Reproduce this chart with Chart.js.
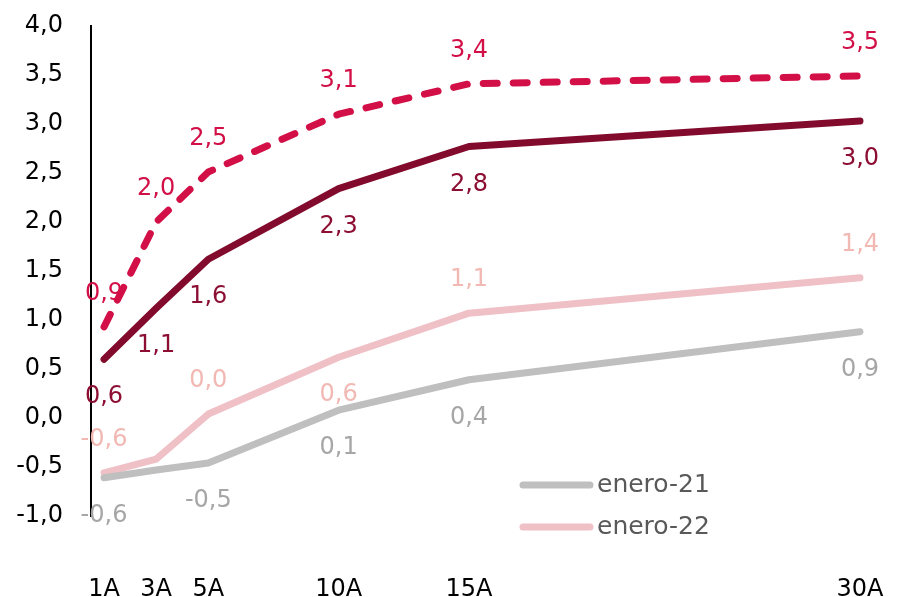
<!DOCTYPE html>
<html>
<head>
<meta charset="utf-8">
<script src="https://cdn.jsdelivr.net/npm/chart.js@4/dist/chart.umd.min.js"></script>
<style>
  html, body { margin: 0; padding: 0; background: #fff; }
  #wrap { width: 897px; height: 597px; }
</style>
</head>
<body>
<div id="wrap"><canvas id="curveChart" width="897" height="597"></canvas></div>
<script>
// plazos (años)
const plazos = [1, 3, 5, 10, 15, 30];

// series
const enero21 = [-0.61, -0.53, -0.46, 0.08, 0.39, 0.88];
const enero22 = [-0.56, -0.42, 0.04, 0.62, 1.07, 1.43];
const serieOscura = [0.6, 1.12, 1.62, 2.34, 2.77, 3.03];
const serieDiscontinua = [0.93, 2.0, 2.51, 3.1, 3.41, 3.49];

// etiquetas visibles por serie
const labelsEnero21 = [true, false, true, true, true, true];
const labelsEnero22 = [true, false, true, true, true, true];
const labelsOscura = [true, true, true, true, true, true];
const labelsDiscontinua = [true, true, true, true, true, true];

const yTicks = [-1, -0.5, 0, 0.5, 1, 1.5, 2, 2.5, 3, 3.5, 4];

const FONT = "'DejaVu Sans', sans-serif";

function toPoints(arr) {
    return arr.map((v, i) => ({ x: plazos[i], y: v }));
}
function fmt(v) {
    return v.toFixed(1).replace('.', ',');
}

const datasets = [
    {
        label: 'enero-21',
        data: toPoints(enero21),
        borderColor: '#BFBFBF',
        labelColor: '#A6A6A6',
        showLabels: labelsEnero21,
        labelPos: [ 'below', 'below', 'below', 'below', 'below', 'below' ]
    },
    {
        label: 'enero-22',
        data: toPoints(enero22),
        borderColor: '#EFC0C6',
        labelColor: '#F2B8B3',
        showLabels: labelsEnero22,
        labelPos: [ 'above', 'above', 'above', 'below', 'above', 'above' ]
    },
    {
        label: 'serie-3',
        data: toPoints(serieOscura),
        borderColor: '#820A2C',
        labelColor: '#8C0E33',
        showLabels: labelsOscura,
        labelPos: [ 'below', 'below', 'below', 'below', 'below', 'below' ]
    },
    {
        label: 'serie-4',
        data: toPoints(serieDiscontinua),
        borderColor: '#D20F46',
        labelColor: '#D20F46',
        borderDash: [14, 16],
        showLabels: labelsDiscontinua,
        labelPos: [ 'above', 'above', 'above', 'above', 'above', 'above' ]
    }
];

datasets.forEach(ds => {
    ds.borderWidth = 7;
    ds.pointRadius = 0;
    ds.tension = 0;
    ds.fill = false;
    ds.borderCapStyle = 'round';
    ds.borderJoinStyle = 'round';
});

// etiquetas de datos
const dataLabels = {
    id: 'dataLabels',
    afterDatasetsDraw(chart) {
        const ctx = chart.ctx;
        ctx.save();
        ctx.font = '24px ' + FONT;
        ctx.textAlign = 'center';
        ctx.textBaseline = 'middle';
        chart.data.datasets.forEach((ds, di) => {
            const meta = chart.getDatasetMeta(di);
            meta.data.forEach((pt, i) => {
                if (!ds.showLabels[i]) return;
                const off = ds.labelPos[i] === 'above' ? -33 : 38;
                ctx.fillStyle = ds.labelColor;
                ctx.fillText(fmt(ds.data[i].y), pt.x, pt.y + off);
            });
        });
        ctx.restore();
    }
};

// leyenda (solo enero-21 y enero-22)
const legendBox = {
    id: 'legendBox',
    afterDraw(chart) {
        const ctx = chart.ctx;
        const items = [chart.data.datasets[0], chart.data.datasets[1]];
        ctx.save();
        ctx.font = '25px ' + FONT;
        ctx.textBaseline = 'middle';
        ctx.lineCap = 'round';
        items.forEach((ds, i) => {
            const y = 485 + i * 42;
            ctx.strokeStyle = ds.borderColor;
            ctx.lineWidth = 7;
            ctx.beginPath();
            ctx.moveTo(523, y);
            ctx.lineTo(590, y);
            ctx.stroke();
            ctx.fillStyle = '#595959';
            ctx.fillText(ds.label, 597, y);
        });
        ctx.restore();
    }
};

new Chart(document.getElementById('curveChart').getContext('2d'), {
    type: 'line',
    data: { datasets: datasets },
    plugins: [dataLabels, legendBox],
    options: {
        responsive: false,
        animation: false,
        layout: { padding: { top: 26, right: 24, left: 0, bottom: 0 } },
        plugins: {
            legend: { display: false },
            tooltip: { enabled: false }
        },
        scales: {
            x: {
                type: 'linear',
                min: 0.5,
                max: 30.5,
                afterBuildTicks: axis => { axis.ticks = plazos.map(v => ({ value: v })); },
                afterFit: axis => {
                    axis.height = 81;
                    axis.paddingLeft = 0;
                    axis.paddingRight = 0;
                },
                grid: { display: false },
                border: { display: false },
                ticks: {
                    padding: 51,
                    color: '#000',
                    font: { family: FONT, size: 24 },
                    maxRotation: 0,
                    callback: v => v + 'A'
                }
            },
            y: {
                min: -1,
                max: 4,
                afterBuildTicks: axis => { axis.ticks = yTicks.map(v => ({ value: v })); },
                afterFit: axis => {
                    axis.width = 91;
                    axis.paddingTop = 0;
                    axis.paddingBottom = 0;
                },
                grid: { display: false },
                border: { display: true, color: '#000', width: 2 },
                ticks: {
                    padding: 20,
                    color: '#000',
                    font: { family: FONT, size: 24 },
                    callback: v => fmt(v)
                }
            }
        }
    }
});
</script>
</body>
</html>
